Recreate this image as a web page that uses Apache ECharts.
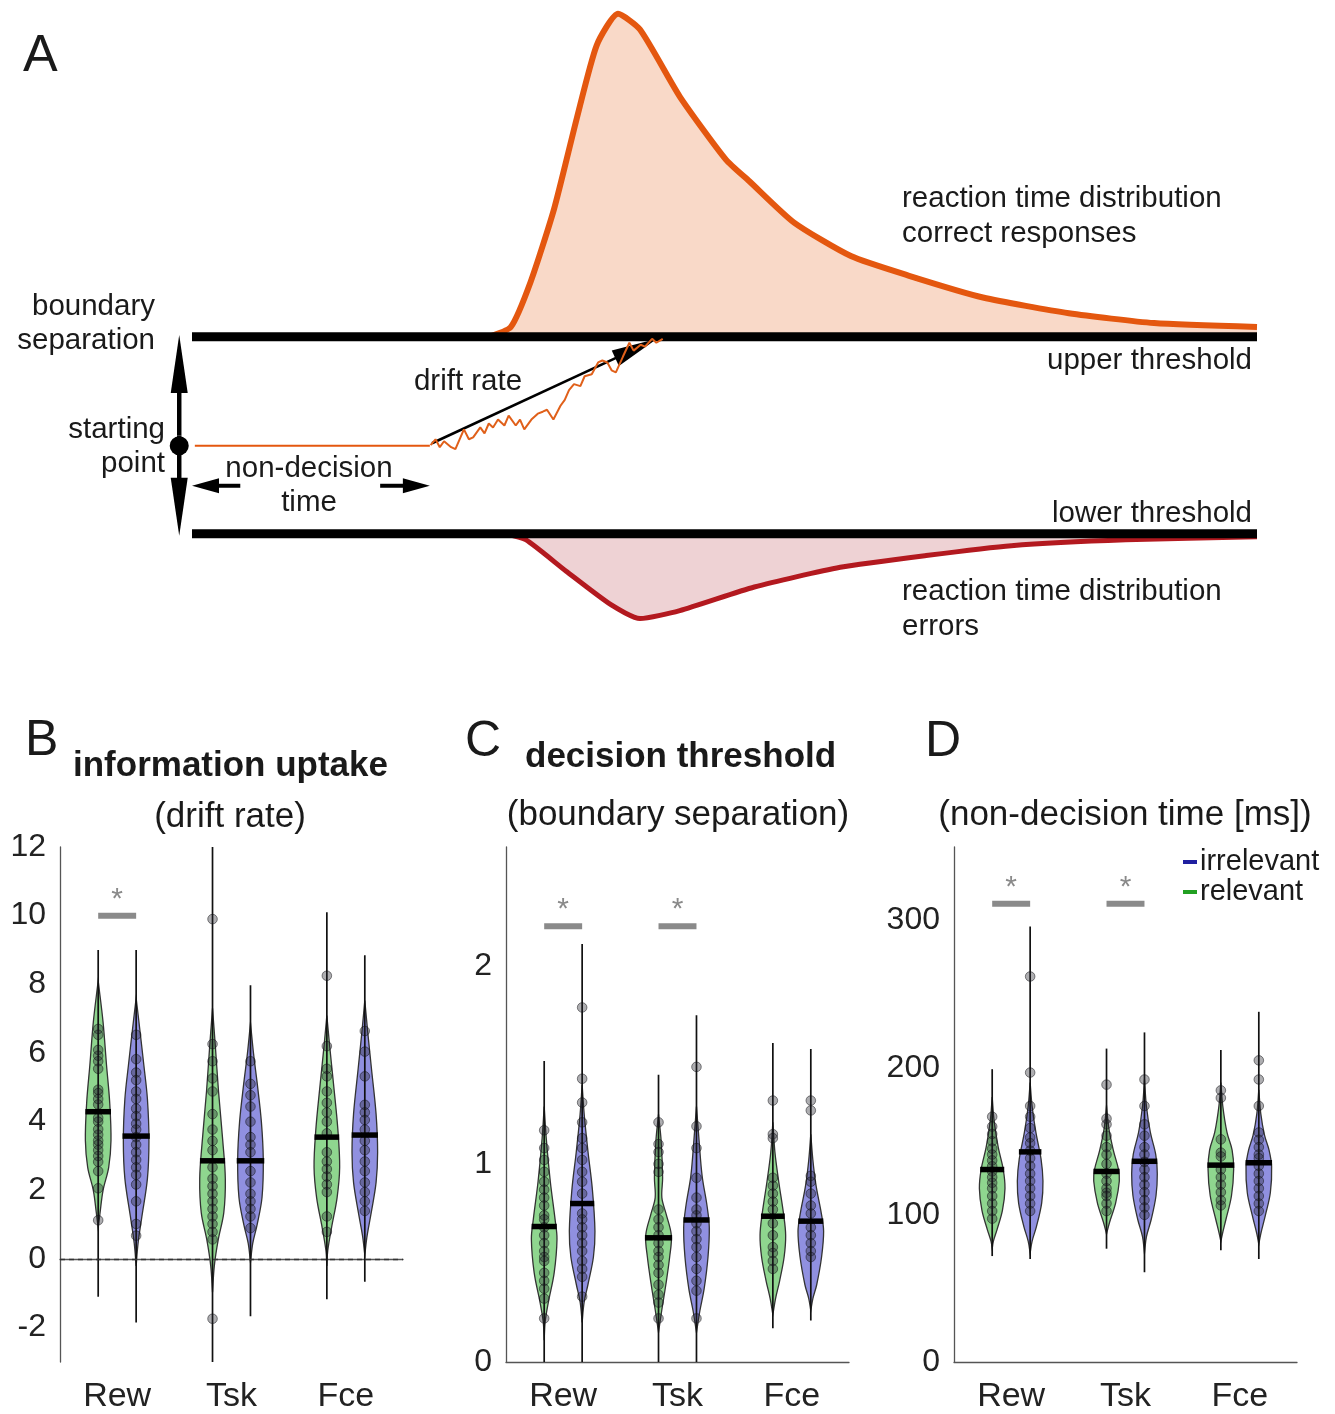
<!DOCTYPE html>
<html>
<head>
<meta charset="utf-8">
<script src="https://cdn.jsdelivr.net/npm/echarts@6/dist/echarts.min.js"></script>
<style>
  html, body { margin: 0; padding: 0; background: #fff; }
  #chart { width: 1335px; height: 1414px; }
</style>
</head>
<body>
<div id="chart"></div>
<script>
// ---------- panel A : diffusion model sketch (x = time [ms], y = evidence, lower bound 0, upper 1)
const thresholds = [0, 1];
const thresholdSpan = [0, 1500];
const startPoint = 0.447;
const nonDecisionTime = 335;
const rtCorrect = [[417, 1.0], [449, 1.05], [477, 1.28], [510, 1.65], [542, 2.11], [570, 2.48], [600, 2.64],
  [631, 2.56], [687, 2.22], [752, 1.9], [785, 1.79], [848, 1.58], [928, 1.41], [1010, 1.31], [1114, 1.2],
  [1235, 1.12], [1355, 1.07], [1500, 1.05]];
const rtErrors = [[441, 0], [470, -0.03], [527, -0.19], [590, -0.36], [631, -0.43], [687, -0.39], [792, -0.27],
  [913, -0.17], [1034, -0.11], [1154, -0.06], [1315, -0.03], [1500, -0.015]];
const walkPath = [[336, 0.45], [343, 0.48], [349, 0.44], [355, 0.47], [365, 0.44], [371, 0.43], [383, 0.53],
  [390, 0.48], [396, 0.49], [406, 0.54], [412, 0.51], [418, 0.56], [424, 0.54], [431, 0.58], [440, 0.55],
  [446, 0.6], [456, 0.55], [462, 0.58], [468, 0.53], [478, 0.58], [487, 0.61], [494, 0.62], [500, 0.63],
  [509, 0.58], [519, 0.65], [525, 0.68], [531, 0.73], [538, 0.76], [547, 0.75], [553, 0.8], [563, 0.81],
  [572, 0.87], [578, 0.88], [585, 0.87], [591, 0.83], [597, 0.82], [607, 0.9], [616, 0.97], [622, 0.93],
  [632, 0.96], [638, 0.95], [648, 0.99], [654, 0.97], [663, 0.99]];
const driftArrow = [[[338, 0.46], [655, 0.99]]];
const boundaryArrow = [[[-18, 0.5], [-18, -0.01]], [[-18, 0.5], [-18, 1.01]]];
const nonDecisionArrows = [[[68, 0.244], [0, 0.244]], [[265, 0.244], [nonDecisionTime, 0.244]]];

// ---------- panels B-D : violins
const conditions = ['Rew', 'Tsk', 'Fce'];

// B: drift rate
const driftRelMedian = [4.29, 2.86, 3.55];
const driftIrrMedian = [3.58, 2.86, 3.61];
const driftRelRange = [[-1.1, 9.0], [-3.0, 12.0], [-1.17, 10.1]];
const driftIrrRange = [[-1.85, 9.0], [-1.67, 7.97], [-0.66, 8.85]];
const driftRelShape = [
  [[8.1, 0], [6.9, 0.38], [5.65, 0.65], [4.55, 0.9], [3.45, 1.0], [2.67, 0.82], [2.0, 0.38], [1.33, 0.14], [0.9, 0]],
  [[7.3, 0], [6.2, 0.22], [4.88, 0.47], [3.44, 0.8], [2.34, 1.0], [1.35, 0.88], [0.57, 0.45], [-0.2, 0.14], [-0.97, 0]],
  [[7.09, 0], [6.2, 0.22], [5.1, 0.52], [3.77, 0.86], [2.67, 1.0], [1.79, 0.8], [0.9, 0.36], [0.24, 0.07], [-0.2, 0]]
];
const driftIrrShape = [
  [[7.6, 0], [6.64, 0.3], [5.65, 0.6], [4.66, 0.88], [3.44, 1.0], [2.34, 0.88], [1.24, 0.45], [0.46, 0.15], [-0.2, 0]],
  [[6.87, 0], [5.98, 0.24], [5.1, 0.53], [4.0, 0.85], [2.89, 1.0], [1.79, 0.9], [1.0, 0.52], [0.46, 0.18], [-0.09, 0]],
  [[7.53, 0], [6.64, 0.22], [5.54, 0.52], [4.22, 0.88], [3.11, 1.0], [2.23, 0.88], [1.35, 0.5], [0.68, 0.18], [0.13, 0]]
];
const driftRelDots = [
  [6.7, 6.53, 6.09, 5.92, 5.76, 5.54, 4.93, 4.83, 4.66, 4.5, 4.11, 4.0, 3.78, 3.62, 3.45, 3.33, 3.17, 3.0, 2.83, 2.56, 2.06, 1.13],
  [9.9, 6.26, 5.76, 5.26, 4.88, 4.22, 3.77, 3.44, 3.17, 2.67, 2.34, 2.12, 1.9, 1.68, 1.46, 1.24, 1.02, 0.79, 0.57, -1.74],
  [8.25, 6.2, 5.54, 5.32, 4.88, 4.55, 4.27, 4.0, 3.66, 3.11, 2.84, 2.62, 2.4, 2.17, 1.95, 1.24, 0.79]
];
const driftIrrDots = [
  [6.53, 5.82, 5.43, 5.21, 4.88, 4.66, 4.38, 4.16, 3.94, 3.77, 3.55, 3.33, 3.11, 2.89, 2.67, 2.45, 2.17, 1.68, 1.02, 0.68],
  [5.76, 5.1, 4.77, 4.44, 4.0, 3.55, 3.33, 3.11, 2.56, 2.23, 1.9, 1.68, 1.46, 1.24, 0.9],
  [6.64, 6.04, 5.32, 4.49, 4.27, 4.05, 3.77, 3.44, 3.17, 2.84, 2.56, 2.23, 1.95, 1.68, 1.4]
];
const driftSig = [[0, 10.0]];

// C: boundary separation
const thrRelMedian = [0.684, 0.627, 0.736];
const thrIrrMedian = [0.80, 0.717, 0.711];
const thrRelRange = [[0, 1.52], [0, 1.45], [0.17, 1.61]];
const thrIrrRange = [[0, 2.11], [0, 1.75], [0.21, 1.58]];
const thrRelShape = [
  [[1.29, 0], [1.13, 0.16], [0.91, 0.48], [0.72, 0.85], [0.62, 1.0], [0.45, 0.78], [0.3, 0.32], [0.2, 0.07], [0.11, 0]],
  [[1.25, 0], [1.12, 0.2], [0.93, 0.32], [0.83, 0.26], [0.75, 0.58], [0.64, 1.0], [0.53, 0.87], [0.39, 0.57], [0.26, 0.25], [0.15, 0]],
  [[1.21, 0], [1.06, 0.16], [0.91, 0.46], [0.75, 0.83], [0.64, 1.0], [0.53, 0.88], [0.41, 0.53], [0.32, 0.21], [0.24, 0]]
];
const thrIrrShape = [
  [[1.4, 0], [1.25, 0.16], [1.06, 0.46], [0.87, 0.8], [0.66, 1.0], [0.53, 0.88], [0.39, 0.45], [0.3, 0.15], [0.2, 0]],
  [[1.29, 0], [1.12, 0.2], [0.94, 0.44], [0.79, 0.82], [0.68, 1.0], [0.53, 0.9], [0.37, 0.6], [0.26, 0.27], [0.15, 0]],
  [[1.15, 0], [1.02, 0.16], [0.89, 0.41], [0.75, 0.82], [0.66, 1.0], [0.53, 0.84], [0.39, 0.46], [0.32, 0.16], [0.26, 0]]
];
const thrRelDots = [
  [1.17, 1.08, 1.02, 0.96, 0.91, 0.87, 0.83, 0.79, 0.74, 0.72, 0.68, 0.64, 0.6, 0.56, 0.53, 0.51, 0.45, 0.41, 0.37, 0.32, 0.22],
  [1.21, 1.1, 1.06, 1.0, 0.96, 0.77, 0.72, 0.68, 0.64, 0.6, 0.56, 0.53, 0.49, 0.45, 0.39, 0.34, 0.3, 0.22],
  [1.32, 1.15, 1.13, 0.93, 0.89, 0.85, 0.81, 0.77, 0.7, 0.64, 0.58, 0.55, 0.51, 0.47]
];
const thrIrrDots = [
  [1.79, 1.43, 1.31, 1.21, 1.13, 1.08, 1.02, 0.96, 0.91, 0.85, 0.75, 0.72, 0.68, 0.64, 0.6, 0.56, 0.51, 0.47, 0.43, 0.33],
  [1.49, 1.19, 1.08, 0.93, 0.83, 0.77, 0.74, 0.7, 0.66, 0.62, 0.58, 0.53, 0.47, 0.41, 0.36, 0.22],
  [1.32, 1.27, 0.94, 0.91, 0.85, 0.79, 0.75, 0.68, 0.64, 0.6, 0.56, 0.53]
];
const thrSig = [[0, 2.2], [1, 2.2]];

// D: non-decision time [ms]
const ndtRelMedian = [130.8, 129.5, 133.8];
const ndtIrrMedian = [142.8, 136.4, 135.4];
const ndtRelRange = [[72, 199], [77, 213], [76, 212]];
const ndtIrrRange = [[70, 296], [61, 224], [70, 238]];
const ndtRelShape = [
  [[180, 0], [164, 0.15], [146, 0.47], [131, 0.86], [118, 1.0], [103, 0.8], [90, 0.38], [82, 0.09], [77, 0]],
  [[174, 0], [159, 0.18], [144, 0.53], [131, 0.93], [123, 1.0], [108, 0.71], [95, 0.24], [87, 0]],
  [[190, 0], [174, 0.15], [156, 0.48], [144, 0.88], [131, 1.0], [113, 0.83], [97, 0.4], [87, 0.12], [82, 0]]
];
const ndtIrrShape = [
  [[190, 0], [174, 0.15], [156, 0.45], [138, 0.85], [123, 1.0], [108, 0.9], [92, 0.49], [82, 0.15], [74, 0]],
  [[192, 0], [174, 0.15], [156, 0.46], [141, 0.88], [128, 1.0], [113, 0.9], [97, 0.53], [85, 0.15], [74, 0]],
  [[185, 0], [169, 0.15], [154, 0.45], [144, 0.8], [133, 1.0], [115, 0.9], [100, 0.52], [87, 0.15], [80, 0]]
];
const ndtRelDots = [
  [166.7, 160, 155, 150, 145, 141, 137, 133, 129.5, 125.6, 121.8, 118, 112.8, 107.7, 102.6, 97.4],
  [188.5, 165.4, 161.5, 153.8, 146, 141, 134.6, 128, 123, 118, 115, 112.8, 107.7, 102.6],
  [184.6, 179.5, 151.3, 142.3, 139.7, 130.8, 125.6, 120.5, 115.4, 110, 106.4]
];
const ndtIrrDots = [
  [262, 196.7, 174, 166.7, 159, 152.6, 148.7, 143.6, 138.5, 133.3, 128, 123, 118, 112.8, 107.7, 102.6],
  [192, 174, 161.5, 153.8, 146, 141, 136, 130.8, 125.6, 120.5, 115.4, 110, 105, 100],
  [205, 192, 174, 156, 151, 146, 141, 138.5, 133.3, 128, 123, 118, 112.8, 107.7, 102.6]
];
const ndtSig = [[0, 311.5], [1, 311.5]];

// ---------- drawing
const FONT = '"Liberation Sans", Arial, Helvetica, sans-serif';
const GREEN = '#8fd68f';
const BLUE = '#9090e0';
const ORANGE = '#e4570f';
const DARKRED = '#b3191f';

const chart = echarts.init(document.getElementById('chart'), null, { width: 1335, height: 1414 });

function densityAt(shape, v) {
  for (let k = 0; k < shape.length - 1; k++) {
    const [v0, d0] = shape[k], [v1, d1] = shape[k + 1];
    if (v <= v0 && v >= v1) return d0 + (d1 - d0) * (v - v0) / (v1 - v0);
  }
  return 0;
}

// one custom series draws one group (relevant / irrelevant) of a panel
function violinSeries(ax, side, color, medians, ranges, shapes, dots) {
  return {
    type: 'custom', xAxisIndex: ax, yAxisIndex: ax, z: 3, silent: true,
    data: conditions.map((c, i) => [i, medians[i]]),
    renderItem: (params, api) => {
      const i = params.dataIndex;
      const bw = api.size([1, 0])[0];
      const cx = api.coord([i, 0])[0] + side * bw * 0.166;
      const hw = bw * 0.112;
      const py = v => api.coord([i, v])[1];
      const shape = shapes[i];
      const right = shape.map(([v, d]) => [cx + d * hw, py(v)]);
      const left = shape.slice().reverse().map(([v, d]) => [cx - d * hw, py(v)]);
      const kids = [{
        type: 'polygon', shape: { points: right.concat(left), smooth: 0.35 },
        style: { fill: color, stroke: '#333', lineWidth: 1.3 }
      }, {
        type: 'line', shape: { x1: cx, y1: py(ranges[i][0]), x2: cx, y2: py(ranges[i][1]) },
        style: { stroke: '#111', lineWidth: 1.7 }
      }];
      dots[i].forEach(v => kids.push({
        type: 'circle', shape: { cx: cx, cy: py(v), r: 4.8 },
        style: { fill: 'rgba(30,30,40,0.36)', stroke: 'rgba(15,15,20,0.5)', lineWidth: 1 }
      }));
      const mw = Math.max(densityAt(shape, medians[i]) * hw, hw * 0.8) + 1;
      kids.push({
        type: 'line', shape: { x1: cx - mw, y1: py(medians[i]), x2: cx + mw, y2: py(medians[i]) },
        style: { stroke: '#000', lineWidth: 5.5 }
      });
      return { type: 'group', children: kids };
    }
  };
}

function sigSeries(ax, bars) {
  return {
    type: 'custom', xAxisIndex: ax, yAxisIndex: ax, z: 4, silent: true,
    data: bars,
    renderItem: (params, api) => {
      const p = api.coord([api.value(0), api.value(1)]);
      const bw = api.size([1, 0])[0];
      return {
        type: 'group', children: [{
          type: 'line', shape: { x1: p[0] - bw * 0.166, y1: p[1], x2: p[0] + bw * 0.166, y2: p[1] },
          style: { stroke: '#8a8a8a', lineWidth: 6 }
        }, {
          type: 'text', x: p[0], y: p[1] - 16,
          style: { text: '*', fontSize: 30, fontFamily: FONT, fill: '#8a8a8a', align: 'center', verticalAlign: 'middle' }
        }]
      };
    }
  };
}

function arrowSeries(segs, headLen, headW, lineW, z) {
  return {
    type: 'custom', xAxisIndex: 0, yAxisIndex: 0, z: z, silent: true,
    data: segs.map(s => [s[0][0], s[0][1], s[1][0], s[1][1]]),
    encode: { x: [0, 2], y: [1, 3] },
    renderItem: (params, api) => {
      const a = api.coord([api.value(0), api.value(1)]);
      const b = api.coord([api.value(2), api.value(3)]);
      const len = Math.hypot(b[0] - a[0], b[1] - a[1]);
      const ux = (b[0] - a[0]) / len, uy = (b[1] - a[1]) / len;
      const bx = b[0] - ux * headLen, by = b[1] - uy * headLen;
      const nx = -uy * headW / 2, ny = ux * headW / 2;
      return {
        type: 'group', children: [{
          type: 'line', shape: { x1: a[0], y1: a[1], x2: bx + ux * 2, y2: by + uy * 2 },
          style: { stroke: '#000', lineWidth: lineW }
        }, {
          type: 'polygon', shape: { points: [[b[0], b[1]], [bx + nx, by + ny], [bx - nx, by - ny]] },
          style: { fill: '#000' }
        }]
      };
    }
  };
}

const yLabel = { fontSize: 32, fontFamily: FONT, color: '#222', margin: 14 };
function catAxis(ax) {
  return {
    type: 'category', gridIndex: ax, data: conditions, boundaryGap: true,
    axisLine: { lineStyle: { color: '#555', width: 1.3 } }, axisTick: { show: false },
    axisLabel: { fontSize: 34, fontFamily: FONT, color: '#222', margin: 18 }
  };
}
function valAxis(ax, min, max, interval, step) {
  return {
    type: 'value', gridIndex: ax, min: min, max: max, interval: interval,
    axisLine: { show: true, lineStyle: { color: '#555', width: 1.3 } }, axisTick: { show: false },
    splitLine: { show: false },
    axisLabel: Object.assign({}, yLabel, {
      formatter: v => (Math.abs(v / step - Math.round(v / step)) < 1e-6) ? String(v) : ''
    })
  };
}

const T = (text, x, y, size, align, weight) => ({
  type: 'text', x: x, y: y, silent: true,
  style: { text: text, fontSize: size, fontFamily: FONT, fontWeight: weight || 'normal', fill: '#1a1a1a', align: align, verticalAlign: 'middle' }
});

const relSeriesB = violinSeries(1, -1, GREEN, driftRelMedian, driftRelRange, driftRelShape, driftRelDots);
relSeriesB.markLine = {
  silent: true, symbol: 'none', label: { show: false },
  lineStyle: { type: [5, 4], color: '#333', width: 1.3 },
  data: [{ yAxis: 0 }]
};

const option = {
  animation: false,
  backgroundColor: '#fff',
  grid: [
    { left: 156.5, top: 2, width: 1100.5, height: 650 },
    { left: 60, top: 847, width: 343, height: 516 },
    { left: 506, top: 847, width: 343, height: 516 },
    { left: 954, top: 847, width: 343, height: 516 }
  ],
  xAxis: [
    { type: 'value', gridIndex: 0, min: -50, max: 1500, show: false },
    catAxis(1), catAxis(2), catAxis(3)
  ],
  yAxis: [
    { type: 'value', gridIndex: 0, min: -0.6, max: 2.7, show: false },
    valAxis(1, -3, 12, 1, 2),
    valAxis(2, 0, 2.6, 1, 1),
    valAxis(3, 0, 350, 50, 100)
  ],
  series: [
    // panel A
    { type: 'line', xAxisIndex: 0, yAxisIndex: 0, z: 1, data: rtCorrect, smooth: 0.2, symbol: 'none',
      lineStyle: { color: ORANGE, width: 6 }, areaStyle: { color: '#f9d9c8', origin: thresholds[1], opacity: 1 } },
    { type: 'line', xAxisIndex: 0, yAxisIndex: 0, z: 1, data: rtErrors, smooth: 0.2, symbol: 'none',
      lineStyle: { color: DARKRED, width: 5 }, areaStyle: { color: '#eed2d4', origin: thresholds[0], opacity: 1 } },
    ...thresholds.map(t => ({
      type: 'line', xAxisIndex: 0, yAxisIndex: 0, z: 3, symbol: 'none',
      data: thresholdSpan.map(x => [x, t]), lineStyle: { color: '#000', width: 9, cap: 'butt' }
    })),
    { type: 'line', xAxisIndex: 0, yAxisIndex: 0, z: 4, symbol: 'none',
      data: [[4, startPoint], [nonDecisionTime, startPoint]], lineStyle: { color: ORANGE, width: 2 } },
    arrowSeries(driftArrow, 46, 17, 2.6, 4),
    { type: 'line', xAxisIndex: 0, yAxisIndex: 0, z: 5, symbol: 'none', data: walkPath,
      lineStyle: { color: '#e0601a', width: 2 } },
    arrowSeries(boundaryArrow, 58, 17, 4.5, 4),
    arrowSeries(nonDecisionArrows, 27, 15, 4, 4),
    { type: 'scatter', xAxisIndex: 0, yAxisIndex: 0, z: 6, symbolSize: 19, data: [[boundaryArrow[0][0][0], startPoint]],
      itemStyle: { color: '#000', opacity: 1 }, silent: true },
    // panel B
    relSeriesB,
    violinSeries(1, 1, BLUE, driftIrrMedian, driftIrrRange, driftIrrShape, driftIrrDots),
    sigSeries(1, driftSig),
    // panel C
    violinSeries(2, -1, GREEN, thrRelMedian, thrRelRange, thrRelShape, thrRelDots),
    violinSeries(2, 1, BLUE, thrIrrMedian, thrIrrRange, thrIrrShape, thrIrrDots),
    sigSeries(2, thrSig),
    // panel D
    violinSeries(3, -1, GREEN, ndtRelMedian, ndtRelRange, ndtRelShape, ndtRelDots),
    violinSeries(3, 1, BLUE, ndtIrrMedian, ndtIrrRange, ndtIrrShape, ndtIrrDots),
    sigSeries(3, ndtSig)
  ],
  graphic: [
    T('A', 23, 57, 52, 'left'),
    T('boundary', 155, 307, 29.5, 'right'), T('separation', 155, 341, 29.5, 'right'),
    T('starting', 165, 430, 29.5, 'right'), T('point', 165, 464, 29.5, 'right'),
    T('non-decision', 309, 469, 29.5, 'center'), T('time', 309, 503, 29.5, 'center'),
    T('drift rate', 468, 382, 29.5, 'center'),
    T('reaction time distribution', 902, 199, 29.5, 'left'), T('correct responses', 902, 234, 29.5, 'left'),
    T('upper threshold', 1252, 361, 29.5, 'right'),
    T('lower threshold', 1252, 514, 29.5, 'right'),
    T('reaction time distribution', 902, 592, 29.5, 'left'), T('errors', 902, 627, 29.5, 'left'),
    T('B', 25, 741, 50, 'left'),
    T('information uptake', 73, 766, 35, 'left', 'bold'),
    T('(drift rate)', 230, 817, 35, 'center'),
    T('C', 465, 742, 50, 'left'),
    T('decision threshold', 525, 757, 35, 'left', 'bold'),
    T('(boundary separation)', 678, 815, 35, 'center'),
    T('D', 925, 742, 50, 'left'),
    T('(non-decision time [ms])', 1125, 815, 35, 'center'),
    { type: 'rect', silent: true, shape: { x: 1183, y: 860, width: 14, height: 4 }, style: { fill: '#1f1fa0' } },
    { type: 'rect', silent: true, shape: { x: 1183, y: 890, width: 14, height: 4 }, style: { fill: '#22a022' } },
    T('irrelevant', 1200, 862, 29, 'left'),
    T('relevant', 1200, 892, 29, 'left')
  ]
};

chart.setOption(option);
</script>
</body>
</html>
